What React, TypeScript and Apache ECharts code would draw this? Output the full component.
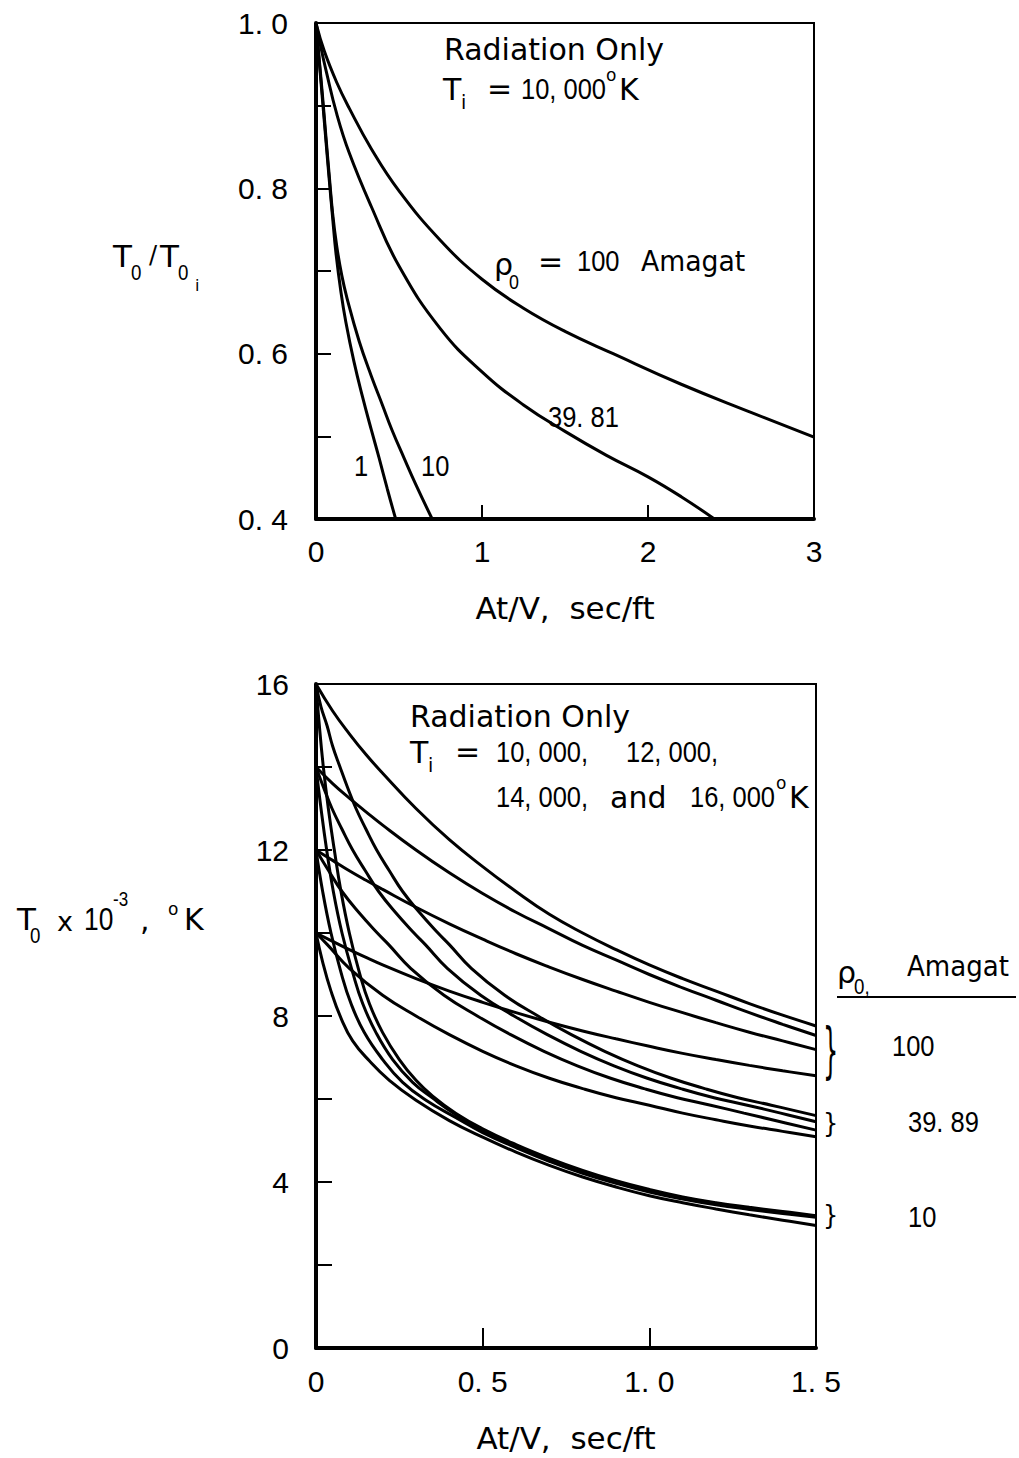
import React, { useEffect, useRef } from "react";
import * as echarts from "echarts";

// ---------- Top chart (T0/T0i vs At/V), Ti = 10,000 K ----------
const topX_rho100 = [0, 0.05, 0.125, 0.2, 0.333, 0.5, 0.75, 1.0, 1.25, 1.5, 1.79, 2.2, 2.62, 3.0];
const topY_rho100 = [1.0, 0.966, 0.928, 0.897, 0.848, 0.797, 0.737, 0.69, 0.655, 0.627, 0.6, 0.563, 0.529, 0.499];
const topX_rho39 = [0, 0.03, 0.06, 0.125, 0.2, 0.333, 0.5, 0.75, 1.0, 1.25, 1.5, 1.75, 2.0, 2.2, 2.4];
const topY_rho39 = [1.0, 0.97, 0.943, 0.89, 0.843, 0.778, 0.706, 0.63, 0.578, 0.538, 0.506, 0.477, 0.451, 0.427, 0.4];
const topX_rho10 = [0, 0.02, 0.04, 0.06, 0.08, 0.1, 0.125, 0.155, 0.187, 0.26, 0.333, 0.4, 0.457, 0.53, 0.603, 0.7];
const topY_rho10 = [1.0, 0.955, 0.91, 0.862, 0.815, 0.77, 0.73, 0.695, 0.667, 0.615, 0.573, 0.538, 0.508, 0.474, 0.441, 0.4];
const topX_rho1 = [0, 0.02, 0.04, 0.06, 0.08, 0.1, 0.12, 0.15, 0.18, 0.229, 0.28, 0.333, 0.38, 0.43, 0.48];
const topY_rho1 = [1.0, 0.952, 0.905, 0.857, 0.81, 0.765, 0.722, 0.675, 0.638, 0.59, 0.548, 0.508, 0.474, 0.436, 0.4];

const topXTickLabels = ["0", "1", "2", "3"];
const topYTickLabels = ["0. 4", "0. 6", "0. 8", "1. 0"];

// ---------- Bottom chart (T0 x 1e-3 K vs At/V) ----------
// rho0 = 100 Amagat
const bx_100 = [0, 0.05, 0.1, 0.15, 0.2, 0.3, 0.4, 0.5, 0.6, 0.7, 0.8, 0.9, 1.0, 1.1, 1.2, 1.3, 1.4, 1.5];
const T16_100 = [16, 15.35, 14.8, 14.3, 13.85, 13.0, 12.25, 11.6, 11.0, 10.45, 10.0, 9.6, 9.23, 8.9, 8.6, 8.3, 8.02, 7.76];
const T14_100 = [14, 13.6, 13.25, 12.92, 12.6, 12.0, 11.45, 10.95, 10.5, 10.1, 9.7, 9.35, 9.0, 8.68, 8.38, 8.08, 7.8, 7.53];
const T12_100 = [12, 11.75, 11.5, 11.27, 11.05, 10.62, 10.22, 9.85, 9.5, 9.18, 8.88, 8.6, 8.33, 8.08, 7.84, 7.61, 7.4, 7.19];
const T10_100 = [10, 9.8, 9.6, 9.41, 9.23, 8.9, 8.6, 8.33, 8.08, 7.85, 7.64, 7.45, 7.27, 7.1, 6.95, 6.81, 6.68, 6.56];

// rho0 = 39.89 Amagat
const bx16_39 = [0, 0.015, 0.033, 0.05, 0.072, 0.095, 0.12, 0.15, 0.182, 0.22, 0.26, 0.31, 0.366, 0.4, 0.466, 0.566, 0.666, 0.766, 0.866, 0.966, 1.066, 1.166, 1.266, 1.366, 1.5];
const T16_39 = [16, 15.45, 15, 14.5, 14, 13.5, 13, 12.5, 12, 11.5, 11, 10.5, 10, 9.72, 9.15, 8.5, 8.0, 7.55, 7.15, 6.8, 6.5, 6.25, 6.03, 5.85, 5.6];
const bx14_39 = [0, 0.023, 0.048, 0.078, 0.11, 0.148, 0.188, 0.238, 0.294, 0.328, 0.394, 0.494, 0.594, 0.694, 0.794, 0.894, 0.994, 1.094, 1.194, 1.294, 1.394, 1.5];
const T14_39 = [14, 13.5, 13, 12.5, 12, 11.5, 11, 10.5, 10, 9.72, 9.15, 8.5, 8.0, 7.55, 7.15, 6.8, 6.5, 6.25, 6.03, 5.85, 5.66, 5.45];
const bx12_39 = [0, 0.038, 0.078, 0.128, 0.184, 0.218, 0.284, 0.384, 0.484, 0.584, 0.684, 0.784, 0.884, 0.984, 1.084, 1.184, 1.284, 1.384, 1.5];
const T12_39 = [12, 11.5, 11, 10.5, 10, 9.72, 9.15, 8.5, 8.0, 7.55, 7.15, 6.8, 6.5, 6.25, 6.03, 5.85, 5.66, 5.47, 5.25];
const bx10_39 = [0, 0.034, 0.1, 0.2, 0.3, 0.4, 0.5, 0.6, 0.7, 0.8, 0.9, 1.0, 1.1, 1.2, 1.3, 1.4, 1.5];
const T10_39 = [10, 9.72, 9.15, 8.5, 8.0, 7.55, 7.15, 6.8, 6.5, 6.25, 6.03, 5.85, 5.66, 5.5, 5.35, 5.22, 5.09];

// rho0 = 10 Amagat
const bx16_10 = [0, 0.01, 0.022, 0.037, 0.055, 0.075, 0.1, 0.13, 0.16, 0.2, 0.25, 0.3, 0.35, 0.42, 0.5, 0.6, 0.7, 0.8, 0.9, 1.0, 1.1, 1.2, 1.3, 1.4, 1.5];
const T16_10 = [16, 15, 14, 13, 12, 11, 10, 9.05, 8.3, 7.6, 6.95, 6.45, 6.07, 5.65, 5.28, 4.9, 4.57, 4.28, 4.03, 3.82, 3.64, 3.5, 3.39, 3.29, 3.19];
const bx14_10 = [0, 0.015, 0.032, 0.052, 0.078, 0.11, 0.14, 0.18, 0.23, 0.29, 0.35, 0.42, 0.5, 0.6, 0.7, 0.8, 0.9, 1.0, 1.1, 1.2, 1.3, 1.4, 1.5];
const T14_10 = [14, 13, 12, 11, 10, 9.05, 8.3, 7.6, 6.95, 6.4, 6.02, 5.62, 5.24, 4.87, 4.54, 4.25, 4.0, 3.79, 3.62, 3.48, 3.37, 3.27, 3.17];
const bx12_10 = [0, 0.02, 0.045, 0.075, 0.105, 0.145, 0.2, 0.26, 0.33, 0.42, 0.5, 0.6, 0.7, 0.8, 0.9, 1.0, 1.1, 1.2, 1.3, 1.4, 1.5];
const T12_10 = [12, 11, 10, 9.05, 8.3, 7.6, 6.95, 6.4, 5.97, 5.55, 5.19, 4.83, 4.5, 4.21, 3.97, 3.76, 3.59, 3.45, 3.34, 3.24, 3.15];
const bx10_10 = [0, 0.02, 0.045, 0.075, 0.11, 0.16, 0.22, 0.3, 0.4, 0.5, 0.6, 0.7, 0.8, 0.9, 1.0, 1.1, 1.2, 1.3, 1.4, 1.5];
const T10_10 = [10, 9.3, 8.6, 7.95, 7.4, 6.92, 6.45, 5.97, 5.48, 5.08, 4.72, 4.4, 4.12, 3.88, 3.67, 3.5, 3.35, 3.21, 3.08, 2.95];

const bottomXTickLabels = ["0", "0. 5", "1. 0", "1. 5"];
const bottomYTickLabels = ["0", "4", "8", "12", "16"];

const FW = '"DejaVu Sans", sans-serif';
const FN = '"Liberation Sans", Arial, sans-serif';
const NS = 0.85; // horizontal squeeze for numeric annotations

function pairs(xs: number[], ys: number[]) {
  return xs.map((x, i) => [x, ys[i]]);
}

function curve(xs: number[], ys: number[], gi: number) {
  return {
    type: "line",
    xAxisIndex: gi,
    yAxisIndex: gi,
    data: pairs(xs, ys),
    showSymbol: false,
    symbol: "none",
    smooth: 0.45,
    silent: true,
    lineStyle: { color: "#000", width: 3 },
  };
}

function txt(text: string, x: number, y: number, size: number, family: string = FW, extra: any = {}) {
  return {
    type: "text",
    x,
    y,
    silent: true,
    ...extra,
    style: {
      text,
      x: 0,
      y: 0,
      fill: "#000",
      fontSize: size,
      fontFamily: family,
      align: "left",
      verticalAlign: "middle",
    },
  };
}

function num(text: string, x: number, y: number, size: number = 30) {
  return txt(text, x, y, size, FN, { scaleX: NS });
}

function tickLabel(labels: string[], min: number, step: number) {
  return (v: number) => {
    const i = Math.round((v - min) / step);
    return labels[i] ?? "";
  };
}

export default function App() {
  const ref = useRef<HTMLDivElement>(null);
  useEffect(() => {
    if (!ref.current) return;
    const chart = echarts.init(ref.current, null, { renderer: "svg" });
    const axisLine = { show: true, onZero: false, lineStyle: { color: "#000", width: 4 } };
    const option: any = {
      animation: false,
      backgroundColor: "#fff",
      grid: [
        { left: 316, top: 23, width: 498, height: 496, show: true, borderColor: "#000", borderWidth: 2, backgroundColor: "transparent" },
        { left: 316, top: 684, width: 500, height: 664, show: true, borderColor: "#000", borderWidth: 2, backgroundColor: "transparent" },
      ],
      xAxis: [
        {
          type: "value", gridIndex: 0, min: 0, max: 3, interval: 1,
          axisLine,
          axisTick: { inside: true, length: 14, lineStyle: { color: "#000", width: 2 } },
          axisLabel: { formatter: tickLabel(topXTickLabels, 0, 1), color: "#000", fontSize: 30, fontFamily: FN, margin: 17 },
          splitLine: { show: false },
          name: "At/V,  sec/ft", nameLocation: "middle", nameGap: 73,
          nameTextStyle: { color: "#000", fontSize: 31, fontFamily: FW, verticalAlign: "top" },
        },
        {
          type: "value", gridIndex: 1, min: 0, max: 1.5, interval: 0.5,
          axisLine,
          axisTick: { inside: true, length: 20, lineStyle: { color: "#000", width: 2 } },
          axisLabel: { formatter: tickLabel(bottomXTickLabels, 0, 0.5), color: "#000", fontSize: 30, fontFamily: FN, margin: 18 },
          splitLine: { show: false },
          name: "At/V,  sec/ft", nameLocation: "middle", nameGap: 74,
          nameTextStyle: { color: "#000", fontSize: 31, fontFamily: FW, verticalAlign: "top" },
        },
      ],
      yAxis: [
        {
          type: "value", gridIndex: 0, min: 0.4, max: 1.0, interval: 0.2,
          axisLine,
          axisTick: { inside: true, length: 15, lineStyle: { color: "#000", width: 2 } },
          minorTick: { show: true, splitNumber: 2, length: 15, lineStyle: { color: "#000", width: 2 } },
          axisLabel: { formatter: tickLabel(topYTickLabels, 0.4, 0.2), color: "#000", fontSize: 30, fontFamily: FN, margin: 28 },
          splitLine: { show: false },
        },
        {
          type: "value", gridIndex: 1, min: 0, max: 16, interval: 4,
          axisLine,
          axisTick: { inside: true, length: 16, lineStyle: { color: "#000", width: 2 } },
          minorTick: { show: true, splitNumber: 2, length: 16, lineStyle: { color: "#000", width: 2 } },
          axisLabel: { formatter: tickLabel(bottomYTickLabels, 0, 4), color: "#000", fontSize: 30, fontFamily: FN, margin: 27 },
          splitLine: { show: false },
        },
      ],
      series: [
        curve(topX_rho100, topY_rho100, 0),
        curve(topX_rho39, topY_rho39, 0),
        curve(topX_rho10, topY_rho10, 0),
        curve(topX_rho1, topY_rho1, 0),
        curve(bx_100, T16_100, 1),
        curve(bx_100, T14_100, 1),
        curve(bx_100, T12_100, 1),
        curve(bx_100, T10_100, 1),
        curve(bx16_39, T16_39, 1),
        curve(bx14_39, T14_39, 1),
        curve(bx12_39, T12_39, 1),
        curve(bx10_39, T10_39, 1),
        curve(bx16_10, T16_10, 1),
        curve(bx14_10, T14_10, 1),
        curve(bx12_10, T12_10, 1),
        curve(bx10_10, T10_10, 1),
      ],
      graphic: [
        // top y-axis title  T0 / T0i
        txt("T", 113, 256, 31),
        num("0", 131, 272, 22),
        txt("/", 149, 255, 24),
        txt("T", 160, 256, 31),
        num("0", 178, 272, 22),
        txt("i", 195, 285, 16),
        // top annotations
        txt("Radiation Only", 444, 49, 30),
        txt("T", 443, 89, 30),
        txt("i", 461, 102, 19),
        txt("=", 487, 88, 30),
        num("10, 000", 521, 89),
        txt("o", 606, 75, 17),
        txt("K", 619, 89, 30),
        txt("ρ", 494, 264, 30),
        num("0", 509, 281, 21),
        txt("=", 538, 261, 30),
        num("100", 577, 261),
        txt("Amagat", 641, 261, 29, FW, { scaleX: 0.92 }),
        num("39. 81", 548, 417),
        num("1", 354, 466),
        num("10", 421, 466),
        // bottom y-axis title  T0 x 10^-3, oK
        txt("T", 17, 919, 31),
        num("0", 30, 935, 22),
        txt("x", 57, 921, 27),
        num("10", 84, 919, 31),
        num("-3", 113, 899, 20),
        txt(",", 140, 919, 30),
        txt("o", 168, 909, 17),
        txt("K", 184, 919, 30),
        // bottom annotations
        txt("Radiation Only", 410, 716, 30),
        txt("T", 410, 752, 30),
        txt("i", 428, 765, 19),
        txt("=", 455, 751, 30),
        num("10, 000,", 496, 752),
        num("12, 000,", 626, 752),
        num("14, 000,", 496, 797),
        txt("and", 610, 797, 30),
        num("16, 000", 690, 797),
        txt("o", 776, 783, 17),
        txt("K", 789, 797, 30),
        // right-side legend
        txt("ρ", 837, 972, 30),
        num("0,", 854, 986, 22),
        txt("Amagat", 907, 966, 29, FW, { scaleX: 0.9 }),
        { type: "line", silent: true, shape: { x1: 837, y1: 997, x2: 1016, y2: 997 }, style: { stroke: "#000", lineWidth: 2 } },
        txt("}", 823, 1051, 24, FW, { scaleY: 2.5 }),
        num("100", 892, 1046),
        txt("}", 823, 1123, 24, FW, { scaleY: 1.1 }),
        num("39. 89", 908, 1122),
        txt("}", 823, 1215, 24, FW, { scaleY: 1.1 }),
        num("10", 908, 1217),
      ],
    };
    chart.setOption(option);
    return () => chart.dispose();
  }, []);
  return (
    <div
      ref={ref}
      style={{ position: "absolute", left: 0, top: 0, width: 1019, height: 1458, background: "#fff" }}
    />
  );
}
